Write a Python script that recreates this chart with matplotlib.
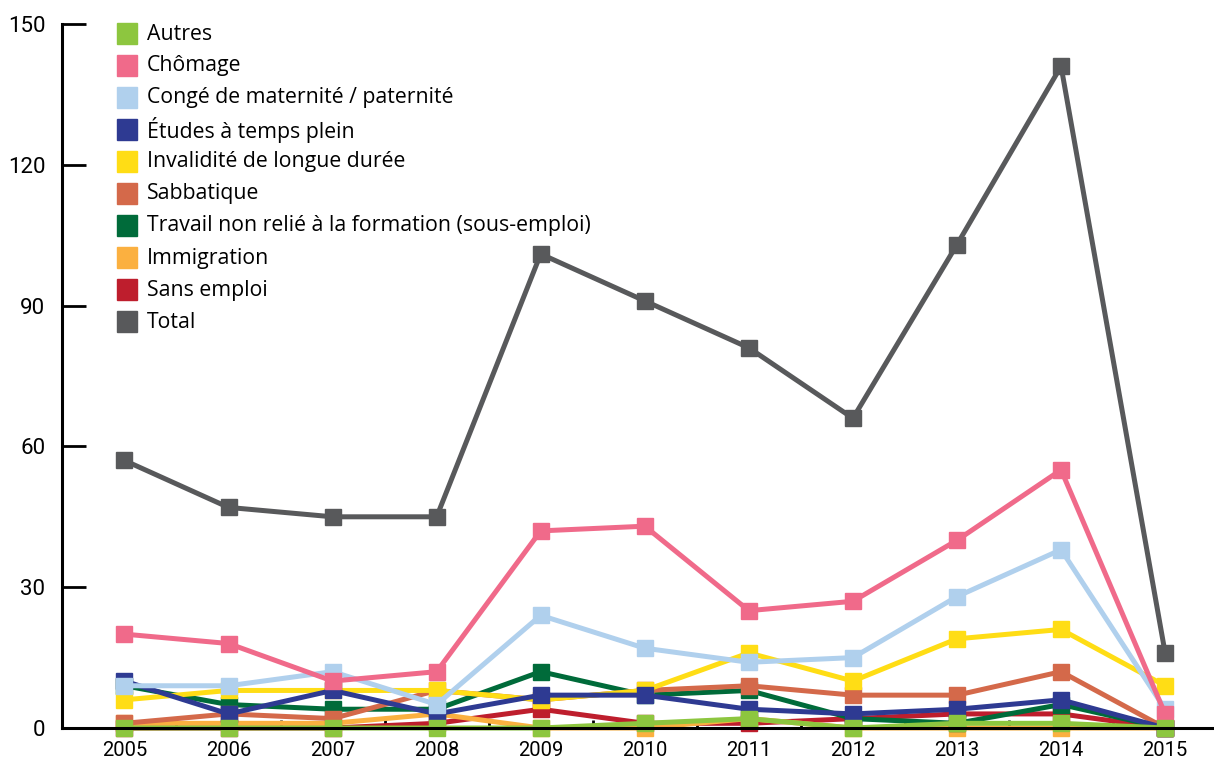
import matplotlib
matplotlib.use("Agg")
import matplotlib.pyplot as plt
from matplotlib.patches import Rectangle
from matplotlib.ticker import FixedLocator

# données par année
years = [2005, 2006, 2007, 2008, 2009, 2010, 2011, 2012, 2013, 2014, 2015]

autres = [0, 0, 0, 0, 0, 1, 2, 0, 1, 1, 0]
chomage = [20, 18, 10, 12, 42, 43, 25, 27, 40, 55, 3]
conge = [9, 9, 12, 5, 24, 17, 14, 15, 28, 38, 4]
etudes = [10, 3, 8, 3, 7, 7, 4, 3, 4, 6, 0]
invalidite = [6, 8, 8, 8, 6, 8, 16, 10, 19, 21, 9]
sabbatique = [1, 3, 2, 8, 6, 8, 9, 7, 7, 12, 0]
travail = [9, 5, 4, 4, 12, 7, 8, 2, 1, 5, 0]
immigration = [1, 1, 1, 3, 0, 0, 2, 0, 0, 0, 0]
sans_emploi = [0, 0, 0, 1, 4, 1, 1, 2, 3, 3, 0]
total = [57, 47, 45, 45, 101, 91, 81, 66, 103, 141, 16]

labels = [
    "Autres",
    "Chômage",
    "Congé de maternité / paternité",
    "Études à temps plein",
    "Invalidité de longue durée",
    "Sabbatique",
    "Travail non relié à la formation (sous-emploi)",
    "Immigration",
    "Sans emploi",
    "Total",
]
series = [autres, chomage, conge, etudes, invalidite, sabbatique,
          travail, immigration, sans_emploi, total]
colors = ["#8DC63F", "#F06A8A", "#B0D0ED", "#2E3A92", "#FFDD15",
          "#D4694A", "#006B3A", "#FBB040", "#BE1E2D", "#58595B"]

y_ticks = [0, 30, 60, 90, 120, 150]

W, H = 1214, 762
fig = plt.figure(figsize=(W / 100, H / 100), dpi=100)
ax = fig.add_axes([62 / W, 34 / H, 1151 / W, 704 / H])

# le total d'abord, les autres par-dessus (Autres en dernier)
for vals, col in reversed(list(zip(series, colors))):
    ax.plot(years, vals, color=col, lw=3.6, marker="s", ms=11.5,
            solid_joinstyle="miter", clip_on=False)

ax.set_xlim(2004.40, 2015.46)
ax.set_ylim(0, 150)
ax.set_yticks(y_ticks)
ax.set_xticks(years)
ax.xaxis.set_minor_locator(FixedLocator([y + 0.5 for y in years[:-1]]))

for side in ["top", "right"]:
    ax.spines[side].set_visible(False)
ax.spines["left"].set_linewidth(2.2)
ax.spines["bottom"].set_linewidth(2.2)

ax.tick_params(axis="y", direction="in", length=17, width=2, pad=12,
               labelsize=16, labelfontfamily="Roboto")
ax.tick_params(axis="x", which="major", length=0, pad=9,
               labelsize=14.5, labelfontfamily="Roboto")
ax.tick_params(axis="x", which="minor", direction="in", length=6, width=2)

# légende : carrés de couleur + libellés, une ligne tous les 32 px
for i, (lab, col) in enumerate(zip(labels, colors)):
    yc = 33 + 32 * i
    fig.patches.append(Rectangle((117 / W, 1 - (yc + 10.5) / H), 20 / W, 21 / H,
                                 transform=fig.transFigure, color=col))
    fig.text(147 / W, 1 - (yc + 1) / H, lab, va="center", ha="left",
             family="Open Sans", fontsize=15.3)

fig.savefig("out.png", dpi=100)
